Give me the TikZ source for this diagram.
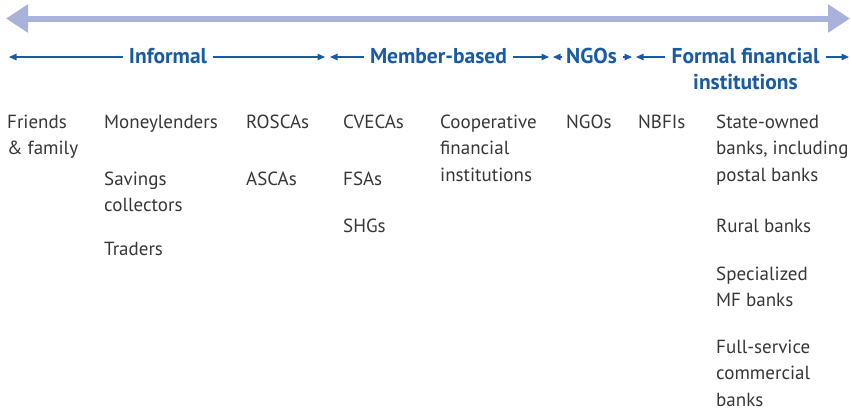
\documentclass[tikz,border=0pt]{standalone}
\usepackage{fontspec}
\setmainfont{PT Sans}
\usetikzlibrary{arrows.meta}
\definecolor{hdblue}{RGB}{25,90,165}
\definecolor{txtgray}{RGB}{55,55,55}
\definecolor{bigarrow}{RGB}{168,178,218}
\newcommand\topstrutx{\rule{0pt}{17pt}}
\newcommand\hdstrutx{\rule{0pt}{18pt}}
\begin{document}
\begin{tikzpicture}[x=1pt,y=-1pt,
 item/.style={anchor=north west, inner sep=0pt, align=left, text=txtgray, font=\fontsize{19}{26.5}\selectfont},
 hdr/.style={inner sep=0pt, text=hdblue, font=\bfseries\fontsize{21.5}{26}\selectfont},
 sarrow/.style={draw=hdblue, line width=1.2pt, -{Triangle[length=7.5pt,width=6.5pt]}},
 barrow/.style={draw=bigarrow, line width=6pt, {Triangle[length=22pt,width=27pt]}-{Triangle[length=22pt,width=27pt]}}]
\useasboundingbox (0,0) rectangle (851,410);

% big arrow
\coordinate (bl) at (6,18.5);
\coordinate (br) at (850,18.5);
\draw[barrow] (bl) -- (br);

% headers
\coordinate (ly) at (0,57);
\node[hdr, anchor=base] (inf) at (168,63) {Informal};
\node[hdr, anchor=base] (mem) at (438.5,63) {Member-based};
\node[hdr, anchor=base] (ngoh) at (591.5,63) {NGOs};
\node[hdr, anchor=north, align=center] (ffi) at (745.5,45) {\hdstrutx Formal financial\\institutions};

\coordinate (e1) at (9,57);
\coordinate (e2) at (325,57);
\coordinate (e3) at (330,57);
\coordinate (e4) at (549,57);
\coordinate (e5) at (553,57);
\coordinate (e6) at (632,57);
\coordinate (e7) at (636,57);
\coordinate (e8) at (849,57);
\draw[sarrow] ([xshift=-6pt]inf.west |- ly) -- (e1);
\draw[sarrow] ([xshift=6pt]inf.east |- ly) -- (e2);
\draw[sarrow] ([xshift=-6pt]mem.west |- ly) -- (e3);
\draw[sarrow] ([xshift=6pt]mem.east |- ly) -- (e4);
\draw[sarrow] ([xshift=-4pt]ngoh.west |- ly) -- (e5);
\draw[sarrow] ([xshift=6pt]ngoh.east |- ly) -- (e6);
\draw[sarrow] ([xshift=-6pt]ffi.west |- ly) -- (e7);
\draw[sarrow] ([xshift=6pt]ffi.east |- ly) -- (e8);

% items
\node[item] (ff) at (7,111) {\topstrutx Friends\\\& family};
\node[item] (mon) at (104,111) {\topstrutx Moneylenders};
\node[item] (sav) at (104,168) {\topstrutx Savings\\collectors};
\node[item] (tra) at (104,238) {\topstrutx Traders};
\node[item] (ros) at (246,111) {\topstrutx ROSCAs};
\node[item] (asc) at (246,168) {\topstrutx ASCAs};
\node[item] (cve) at (343,111) {\topstrutx CVECAs};
\node[item] (fsa) at (343,168) {\topstrutx FSAs};
\node[item] (shg) at (343,215) {\topstrutx SHGs};
\node[item] (coop) at (440,111) {\topstrutx Cooperative\\financial\\institutions};
\node[item] (ngo) at (566,111) {\topstrutx NGOs};
\node[item] (nbf) at (638,111) {\topstrutx NBFIs};
\node[item] (sob) at (716,111) {\topstrutx State-owned\\banks, including\\postal banks};
\node[item] (rur) at (716,215) {\topstrutx Rural banks};
\node[item] (smf) at (716,263) {\topstrutx Specialized\\MF banks};
\node[item] (fsc) at (716,336) {\topstrutx Full-service\\commercial\\banks};
\end{tikzpicture}
\end{document}
